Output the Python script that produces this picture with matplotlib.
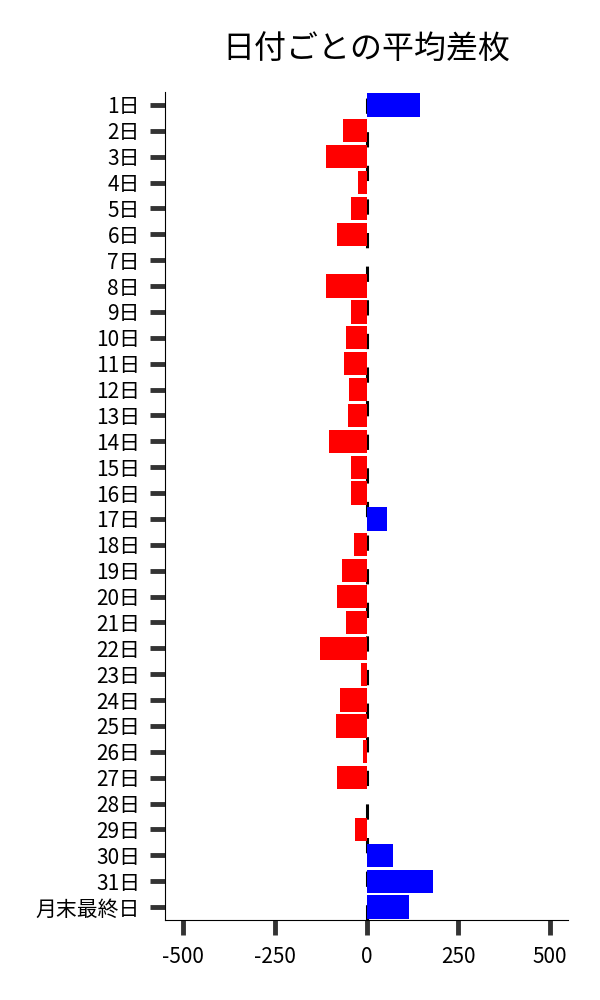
import matplotlib
matplotlib.use("Agg")
import matplotlib.pyplot as plt

plt.rcParams['font.family'] = ['Noto Sans CJK JP', 'DejaVu Sans']

# 日付ラベル
days = [f"{i}日" for i in range(1, 32)] + ["月末最終日"]
# 平均差枚
diffs = [147, -65, -111, -23, -43, -81, 1, -111, -43, -57,
         -62, -49, -51, -103, -43, -43, 57, -35, -68, -81,
         -57, -127, -14, -72, -83, -10, -80, 0, -31, 71,
         180, 115]
xticks = [-500, -250, 0, 250, 500]

colors = ['blue' if d > 0 else 'red' for d in diffs]

fig = plt.figure(figsize=(6, 10), dpi=100)
ax = fig.add_axes([0.275, 0.08, 0.672, 0.828])

ypos = list(range(len(days)))
ax.barh(ypos, diffs, height=0.9, color=colors, zorder=2)
ax.axvline(0, color='black', lw=2.2, linestyle=(0, (5, 6)), zorder=1)

ax.set_yticks(ypos)
ax.set_yticklabels(days, fontsize=15)
ax.set_ylim(len(days) - 0.5, -0.5)
ax.set_xlim(-550, 550)
ax.set_xticks(xticks)
ax.set_xticklabels([str(t) for t in xticks], fontsize=15)

ax.tick_params(axis='both', length=11, width=3.5, color='#333333', pad=7)
ax.tick_params(axis='x', pad=8)
ax.spines['top'].set_visible(False)
ax.spines['right'].set_visible(False)

ax.set_title('日付ごとの平均差枚', fontsize=23, pad=24)

plt.savefig('out.png')
